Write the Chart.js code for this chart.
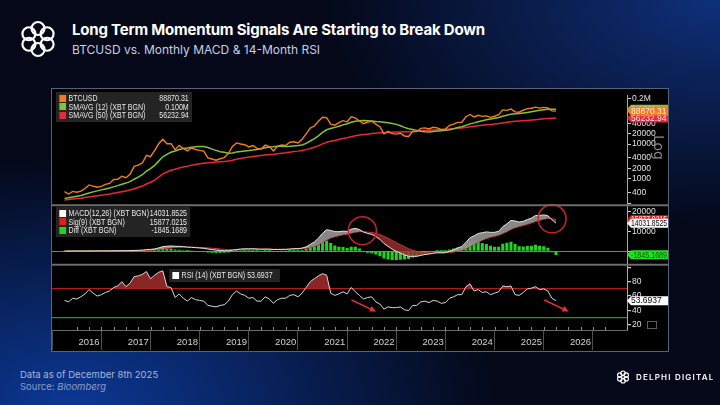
<!DOCTYPE html>
<html lang="en">
<head>
<meta charset="UTF-8" />
<title>Long Term Momentum Signals Are Starting to Break Down</title>
<script src="https://cdn.jsdelivr.net/npm/chart.js"></script>
<style>
  html, body { margin: 0; padding: 0; }
  body {
    width: 720px; height: 405px; overflow: hidden; position: relative;
    font-family: Inter, 'Noto Sans', sans-serif; color: #fff;
    background:
      radial-gradient(ellipse 430px 250px at 10% 100%, rgba(12,58,155,0.95), rgba(12,58,155,0) 100%),
      radial-gradient(ellipse 400px 230px at 100% 0%, rgba(16,52,132,0.9), rgba(16,52,132,0) 100%),
      #040818;
  }
  .abs { position: absolute; }
  #title { left: 72px; top: 20px; font-size: 15px; font-weight: 700; letter-spacing: -0.2px; white-space: nowrap; }
  #subtitle { left: 72px; top: 42px; font-size: 12px; color: #c9cfe3; white-space: nowrap; }
  #panel { left: 51px; top: 88px; width: 616px; height: 262px; border: 1px solid #56617a; background: #000; }
  canvas { display: block; }
  .lg { position: absolute; background: rgba(40,40,40,0.9); padding: 2px 4px 2px 4px;
        font: 8.4px 'Liberation Sans', Arial, sans-serif; color: #e6e6e6;
        transform: scaleX(0.84); transform-origin: left top; }
  .row { display: flex; align-items: center; height: 8.6px; white-space: nowrap; }
  .row i { display: inline-block; flex-shrink: 0; width: 8px; height: 7px; margin-right: 3px; }
  .row span { flex: 1; }
  .row b { font-weight: normal; text-align: right; }
  #log { left: 667px; top: 135px; font: 14px 'DejaVu Sans', sans-serif; color: #8c8c8c; transform: rotate(90deg); transform-origin: left top; }
  #foot1 { left: 20px; top: 369px; font-size: 9.5px; color: #a9b6da; }
  #foot2 { left: 20px; top: 381px; font-size: 9.5px; color: #8f9dc6; }
  #brand { left: 636px; top: 372px; font-size: 8px; letter-spacing: 1.2px; font-weight: 600; }
</style>
</head>
<body>
  <svg class="abs" style="left:18px;top:19px" width="40" height="40" viewBox="-20 -20 40 40">
    <g fill="none" stroke="#fff" stroke-width="2.2">
      <circle cx="0" cy="-10.5" r="6.5"/><circle cx="9.1" cy="-5.25" r="6.5"/><circle cx="9.1" cy="5.25" r="6.5"/>
      <circle cx="0" cy="10.5" r="6.5"/><circle cx="-9.1" cy="5.25" r="6.5"/><circle cx="-9.1" cy="-5.25" r="6.5"/>
    </g>
  </svg>
  <div id="title" class="abs">Long Term Momentum Signals Are Starting to Break Down</div>
  <div id="subtitle" class="abs">BTCUSD vs. Monthly MACD &amp; 14-Month RSI</div>

  <div id="panel" class="abs"><canvas id="chart" width="616" height="262"></canvas></div>

  <div class="lg" style="left:56px;top:92px;width:154px">
    <div class="row"><i style="background:#f47c20"></i><span>BTCUSD</span><b id="lgBtc"></b></div>
    <div class="row"><i style="background:#80c341"></i><span>SMAVG (12) (XBT BGN)</span><b id="lgS12"></b></div>
    <div class="row"><i style="background:#e8273d"></i><span>SMAVG (50) (XBT BGN)</span><b id="lgS50"></b></div>
  </div>
  <div class="lg" style="left:56px;top:207px;width:152px">
    <div class="row"><i style="background:#fff"></i><span>MACD(12,26) (XBT BGN)</span><b id="lgMacd"></b></div>
    <div class="row"><i style="background:#e01f1f"></i><span>Sig(9) (XBT BGN)</span><b id="lgSig"></b></div>
    <div class="row"><i style="background:#22d422"></i><span>Diff (XBT BGN)</span><b id="lgDiff"></b></div>
  </div>
  <div class="lg" style="left:169px;top:269px;width:124px">
    <div class="row"><i style="background:#fff"></i><span id="lgRsi"></span></div>
  </div>
  <div id="log" class="abs">Log</div>
  <div class="abs" style="left:647px;top:321px;width:8px;height:6px;border:1px solid #5c5c5c"></div>

  <div id="foot1" class="abs">Data as of December 8th 2025</div>
  <div id="foot2" class="abs">Source: <i>Bloomberg</i></div>
  <svg class="abs" style="left:616px;top:370px" width="14" height="14" viewBox="-20 -20 40 40">
    <g fill="none" stroke="#fff" stroke-width="3.2">
      <circle cx="0" cy="-10.5" r="6.5"/><circle cx="9.1" cy="-5.25" r="6.5"/><circle cx="9.1" cy="5.25" r="6.5"/>
      <circle cx="0" cy="10.5" r="6.5"/><circle cx="-9.1" cy="5.25" r="6.5"/><circle cx="-9.1" cy="-5.25" r="6.5"/>
    </g>
  </svg>
  <div id="brand" class="abs">DELPHI DIGITAL</div>

<script>
// monthly closes, first point = Dec 2015, plotted at month end
const startYear = 2016;
const yearLabels = ['2016', '2017', '2018', '2019', '2020', '2021', '2022', '2023', '2024', '2025', '2026'];

const btc = [430,
  369, 437, 416, 448, 531, 673, 624, 575, 609, 698, 742, 964,
  970, 1190, 1080, 1348, 2300, 2480, 2875, 4735, 4340, 6470, 10230, 13860,
  10220, 10330, 6930, 9240, 7500, 6400, 7730, 7020, 6625, 6320, 4020, 3740,
  3460, 3800, 4100, 5320, 8560, 10820, 10080, 9600, 8290, 9150, 7560, 7190,
  9350, 8540, 6410, 8620, 9450, 9140, 11350, 11650, 10780, 13800, 19700, 28990,
  33110, 45240, 58920, 57750, 37330, 35040, 41630, 47130, 43790, 61320, 57010, 46310,
  38480, 43190, 45540, 37710, 31790, 19780, 23300, 20050, 19430, 20490, 17170, 16550,
  23140, 23150, 28480, 29230, 27220, 30480, 29230, 25940, 26970, 34670, 37720, 42270,
  42580, 61200, 71290, 60640, 67490, 62680, 64620, 58970, 63330, 70220, 96450, 93430,
  102400, 84370, 82550, 94210, 104640, 107140, 115760, 108240, 114060, 109600, 90400, 88870.31];

const sma12 = [276,
  289, 304, 319, 336, 361, 395, 424, 453, 484, 516, 546, 591,
  641, 703, 759, 834, 981, 1132, 1319, 1666, 1977, 2458, 3249, 4323,
  5094, 5856, 6343, 7001, 7434, 7761, 8165, 8356, 8546, 8534, 8016, 7173,
  6610, 6065, 5830, 5503, 5591, 5960, 6155, 6370, 6509, 6745, 7040, 7328,
  7818, 8213, 8406, 8681, 8755, 8615, 8721, 8892, 9099, 9487, 10498, 12315,
  14295, 17353, 21729, 25823, 28147, 30305, 32828, 35785, 38536, 42496, 45605, 47048,
  47496, 47325, 46210, 44540, 44078, 42807, 41279, 39023, 36993, 33590, 30270, 27790,
  26512, 24842, 23420, 22713, 22333, 23224, 23718, 24209, 24838, 26019, 27732, 29875,
  31495, 34666, 38233, 40851, 44207, 46890, 49839, 52592, 55622, 58584, 63478, 67742,
  72727, 74658, 75596, 78393, 81489, 85194, 89456, 93562, 97789, 101071, 100567, 100187];

const sma50 = [247,
  255, 263, 272, 280, 291, 304, 317, 328, 340, 354, 368, 387,
  407, 430, 451, 478, 522, 569, 624, 716, 801, 928, 1130, 1403,
  1585, 1777, 1899, 2073, 2214, 2333, 2475, 2603, 2724, 2840, 2913, 2981,
  3043, 3112, 3190, 3291, 3458, 3669, 3866, 4053, 4213, 4392, 4538, 4676,
  4855, 5017, 5138, 5302, 5482, 5656, 5873, 6092, 6295, 6560, 6942, 7507,
  8155, 9040, 10199, 11330, 12055, 12729, 13516, 14409, 15227, 16359, 17412, 18209,
  18774, 19361, 20067, 20615, 21112, 21323, 21639, 21912, 22146, 22415, 22626, 22831,
  23213, 23601, 24102, 24610, 25073, 25576, 25989, 26292, 26629, 27131, 27719, 28382,
  29082, 30162, 31401, 32443, 33665, 34746, 35849, 36846, 37886, 39057, 40770, 42363,
  44017, 45125, 46113, 47093, 48007, 48995, 50564, 52028, 53476, 54726, 55658, 56232.94];

const macd = [-50,
  -43, -32, -25, -16, -2, 20, 33, 39, 46, 58, 70, 97,
  117, 149, 163, 194, 292, 380, 476, 694, 825, 1088, 1582, 2240,
  2440, 2577, 2385, 2391, 2230, 1990, 1886, 1727, 1550, 1370, 1030, 730,
  464, 277, 151, 149, 403, 778, 1004, 1131, 1113, 1155, 1048, 923,
  987, 961, 760, 770, 835, 851, 1031, 1184, 1221, 1477, 2130, 3359,
  4611, 6507, 9007, 10771, 10403, 9813, 9765, 10054, 9900, 11063, 11491, 10855,
  9608, 8898, 8427, 7338, 5929, 3800, 2370, 963, -200, -1024, -1923, -2654,
  -2672, -2654, -2185, -1734, -1521, -1077, -816, -864, -810, -145, 621, 1577,
  2332, 4381, 6741, 7665, 8847, 9289, 9683, 9432, 9475, 9950, 12299, 13759,
  15461, 15181, 14644, 14986, 15914, 16658, 17964, 17982, 18263, 17878, 15878, 14031.8525];

const signal = [-50,
  -49, -45, -41, -36, -29, -19, -9, 1, 10, 19, 30, 43,
  58, 76, 93, 114, 149, 195, 252, 340, 437, 567, 770, 1064,
  1339, 1587, 1746, 1875, 1946, 1955, 1941, 1898, 1829, 1737, 1596, 1423,
  1231, 1040, 862, 720, 656, 681, 745, 822, 881, 935, 958, 951,
  958, 959, 919, 889, 878, 873, 904, 960, 1012, 1105, 1310, 1720,
  2298, 3140, 4313, 5605, 6565, 7215, 7725, 8191, 8533, 9039, 9529, 9794,
  9757, 9585, 9353, 8950, 8346, 7437, 6424, 5332, 4226, 3176, 2156, 1194,
  421, -194, -592, -820, -960, -984, -950, -933, -908, -756, -480, -69,
  411, 1205, 2312, 3383, 4476, 5438, 6287, 6916, 7428, 7932, 8806, 9796,
  10929, 11780, 12352, 12879, 13486, 14120, 14889, 15507, 16059, 16422, 16314, 15877.0215];

const diff = [0,
  6, 13, 16, 20, 27, 39, 42, 38, 36, 39, 40, 54,
  59, 73, 70, 80, 143, 185, 224, 354, 388, 521, 812, 1176,
  1101, 990, 639, 516, 284, 35, -55, -171, -279, -367, -566, -693,
  -767, -763, -711, -571, -253, 97, 259, 309, 232, 220, 90, -28,
  29, 2, -159, -119, -43, -22, 127, 224, 209, 372, 820, 1639,
  2313, 3367, 4694, 5166, 3838, 2598, 2040, 1863, 1367, 2024, 1962, 1061,
  -149, -687, -926, -1612, -2417, -3637, -4054, -4369, -4426, -4200, -4079, -3848,
  -3093, -2460, -1593, -914, -561, -93, 134, 69, 98, 611, 1101, 1646,
  1921, 3176, 4429, 4282, 4371, 3851, 3396, 2516, 2047, 2018, 3493, 3963,
  4532, 3401, 2292, 2107, 2428, 2538, 3075, 2475, 2204, 1456, -436, -1845.1689];

const rsi = [54,
  52, 57, 56, 59, 63, 69, 64, 60, 62, 65, 67, 72,
  74, 80, 73, 78, 87, 88, 90, 94, 84, 89, 93, 95,
  73, 72, 58, 63, 57, 53, 58, 55, 54, 53, 47, 46,
  45, 47, 48, 53, 62, 67, 63, 61, 57, 58, 53, 53,
  59, 56, 50, 55, 57, 57, 61, 62, 59, 64, 72, 80,
  84, 88, 91, 89, 64, 61, 63, 66, 63, 72, 66, 61,
  56, 58, 59, 52, 49, 42, 45, 44, 44, 45, 41, 40,
  47, 47, 52, 53, 51, 54, 53, 50, 51, 57, 59, 62,
  62, 73, 77, 67, 69, 65, 66, 62, 64, 66, 74, 73,
  74, 62, 61, 65, 70, 71, 73, 69, 70, 67, 57, 53.6937];

const priceTicks = [200, 400, 1000, 2000, 4000, 10000, 20000, 40000, 200000];
const macdTicks = [0, 10000, 20000];
const rsiTicks = [20, 30, 40, 60, 70, 80, 100];
const rsiBands = { high: 70, low: 30 };

// annotations in data units
const circles = [{ x: 2022.06, y: 10300 }, { x: 2025.92, y: 16300 }];
const arrows = [
  { x0: 2021.84, y0: 54.5, x1: 2022.34, y1: 38.6 },
  { x0: 2025.76, y0: 54.5, x1: 2026.26, y1: 38.6 }
];

const pts = arr => arr.map((v, i) => ({ x: startYear + i / 12, y: v }));
const last = arr => arr[arr.length - 1];
const fmtM = v => (v / 1e6).toFixed(3) + 'M';
const tv = c => (c && c.tick) ? c.tick.value : NaN;

const narrow = "'Liberation Sans Narrow', 'Arial Narrow', 'Liberation Sans', sans-serif";

document.getElementById('lgBtc').textContent = last(btc).toFixed(2);
document.getElementById('lgS12').textContent = fmtM(last(sma12));
document.getElementById('lgS50').textContent = last(sma50).toFixed(2);
document.getElementById('lgMacd').textContent = last(macd).toFixed(4);
document.getElementById('lgSig').textContent = last(signal).toFixed(4);
document.getElementById('lgDiff').textContent = last(diff).toFixed(4);
document.getElementById('lgRsi').textContent = 'RSI (14) (XBT BGN) ' + last(rsi).toFixed(4);

const tags = [
  { axis: 'yP', value: last(sma12), text: fmtM(last(sma12)), bg: '#80c341', fg: '#f4fff0' },
  { axis: 'yP', value: last(sma50), text: last(sma50).toFixed(2), bg: '#e8273d', fg: '#ffe3e6' },
  { axis: 'yP', value: last(btc), text: last(btc).toFixed(2), bg: '#f47c20', fg: '#fff1e4' },
  { axis: 'yM', value: last(signal), text: last(signal).toFixed(4), bg: '#e01f1f', fg: '#ffd6d6' },
  { axis: 'yM', value: last(macd), text: last(macd).toFixed(4), bg: '#ffffff', fg: '#000' },
  { axis: 'yM', value: last(diff), text: last(diff).toFixed(4), bg: '#22e022', fg: '#0b560b' },
  { axis: 'yR', value: last(rsi), text: last(rsi).toFixed(4), bg: '#ffffff', fg: '#000' }
];

const overlay = {
  id: 'overlay',
  afterDatasetsDraw(chart) {
    const { ctx, scales: { x, yM, yR } } = chart;
    ctx.save();
    ctx.strokeStyle = '#c8232b';
    ctx.lineWidth = 1.5;
    circles.forEach(c => {
      ctx.beginPath();
      ctx.arc(x.getPixelForValue(c.x), yM.getPixelForValue(c.y), 14, 0, Math.PI * 2);
      ctx.stroke();
    });
    ctx.strokeStyle = ctx.fillStyle = '#e2323c';
    arrows.forEach(a => {
      const x0 = x.getPixelForValue(a.x0), y0 = yR.getPixelForValue(a.y0);
      const x1 = x.getPixelForValue(a.x1), y1 = yR.getPixelForValue(a.y1);
      const ang = Math.atan2(y1 - y0, x1 - x0);
      ctx.beginPath(); ctx.moveTo(x0, y0); ctx.lineTo(x1 - 4 * Math.cos(ang), y1 - 4 * Math.sin(ang)); ctx.stroke();
      ctx.beginPath();
      ctx.moveTo(x1, y1);
      ctx.lineTo(x1 - 7 * Math.cos(ang - 0.45), y1 - 7 * Math.sin(ang - 0.45));
      ctx.lineTo(x1 - 7 * Math.cos(ang + 0.45), y1 - 7 * Math.sin(ang + 0.45));
      ctx.closePath(); ctx.fill();
    });
    ctx.restore();
  },
  afterDraw(chart) {
    const { ctx, scales, width } = chart;
    const x = scales.x;
    ctx.save();
    // pane separators
    ctx.strokeStyle = '#6c6c6c';
    ctx.lineWidth = 2;
    [scales.yM.top, scales.yR.top].forEach(y => {
      ctx.beginPath(); ctx.moveTo(0, y); ctx.lineTo(width, y); ctx.stroke();
    });
    // quarter ticks on the time axis
    ctx.strokeStyle = '#8a8a8a';
    ctx.lineWidth = 1;
    for (let q = startYear + 0.25; q < x.max; q += 0.25) {
      const px = Math.round(x.getPixelForValue(q)) + 0.5;
      ctx.beginPath(); ctx.moveTo(px, x.top); ctx.lineTo(px, x.top - 3); ctx.stroke();
    }
    // value tags on the right axis
    ctx.font = '8.5px ' + narrow;
    ctx.textBaseline = 'middle';
    tags.forEach(t => {
      const s = scales[t.axis];
      const cy = s.getPixelForValue(t.value);
      const h = 9, x0 = s.left, x1 = width;
      ctx.fillStyle = t.bg;
      ctx.beginPath();
      ctx.moveTo(x0, cy);
      ctx.lineTo(x0 + 4, cy - h / 2);
      ctx.lineTo(x1, cy - h / 2);
      ctx.lineTo(x1, cy + h / 2);
      ctx.lineTo(x0 + 4, cy + h / 2);
      ctx.closePath();
      ctx.fill();
      ctx.fillStyle = t.fg;
      ctx.fillText(t.text, x0 + 4, cy + 0.5, x1 - x0 - 5);
    });
    ctx.restore();
  }
};

const tickFont = { family: narrow, size: 8.5 };
const axisWidth = s => { s.width = 41; };

new Chart(document.getElementById('chart'), {
  data: {
    datasets: [
      { type: 'line', label: 'BTCUSD', data: pts(btc), yAxisID: 'yP', borderColor: '#f47c20', borderWidth: 1.4, pointRadius: 0, tension: 0 },
      { type: 'line', label: 'SMAVG (12)', data: pts(sma12), yAxisID: 'yP', borderColor: '#80c341', borderWidth: 1.5, pointRadius: 0 },
      { type: 'line', label: 'SMAVG (50)', data: pts(sma50), yAxisID: 'yP', borderColor: '#e8273d', borderWidth: 1.5, pointRadius: 0 },
      { type: 'line', label: 'MACD', data: pts(macd), yAxisID: 'yM', borderColor: '#e6e6e6', borderWidth: 1, pointRadius: 0,
        fill: { target: 4, above: 'rgba(150,150,150,0.9)', below: 'rgba(160,48,48,0.8)' } },
      { type: 'line', label: 'Sig', data: pts(signal), yAxisID: 'yM', borderColor: '#d92626', borderWidth: 1, pointRadius: 0 },
      { type: 'bar', label: 'Diff', data: pts(diff), yAxisID: 'yM', backgroundColor: '#22d422', barThickness: 2.4 },
      { type: 'line', label: 'RSI', data: pts(rsi), yAxisID: 'yR', borderColor: '#d8d8d8', borderWidth: 1, pointRadius: 0,
        fill: { target: { value: rsiBands.high }, above: 'rgba(165,45,45,0.85)', below: 'rgba(0,0,0,0)' } }
    ]
  },
  options: {
    responsive: false,
    animation: false,
    layout: { padding: 0 },
    plugins: { legend: { display: false }, tooltip: { enabled: false } },
    scales: {
      x: {
        type: 'linear', min: startYear, max: 2027.19, bounds: 'data',
        afterBuildTicks: s => {
          const t = [];
          yearLabels.forEach((y, i) => { t.push({ value: startYear + i }); t.push({ value: startYear + i + 0.5 }); });
          t.push({ value: startYear + yearLabels.length });
          s.ticks = t;
        },
        afterFit: s => { s.height = 21; },
        border: { color: '#6a6a6a' },
        grid: {
          drawOnChartArea: false, tickLength: 20,
          color: c => Number.isInteger(tv(c)) ? '#4e4e4e' : 'rgba(0,0,0,0)'
        },
        ticks: {
          autoSkip: false, maxRotation: 0, padding: -13, color: '#d2d2d2',
          font: { family: narrow, size: 9.5 },
          callback: v => (v % 1) ? yearLabels[Math.floor(v) - startYear] : ''
        }
      },
      yP: {
        type: 'logarithmic', position: 'right', stack: 'panes', stackWeight: 113,
        min: 175.3, max: 256400, bounds: 'data',
        afterBuildTicks: s => { s.ticks = priceTicks.map(v => ({ value: v })); },
        afterFit: axisWidth,
        border: { color: '#a8a8a8' },
        grid: { drawOnChartArea: false, tickLength: 4, color: '#d0d0d0' },
        ticks: { autoSkip: false, padding: 1, color: '#e2e2e2', font: tickFont,
          callback: v => v === priceTicks[0] ? '' : v >= 100000 ? (v / 1e6) + 'M' : String(v) }
      },
      yM: {
        type: 'linear', position: 'right', stack: 'panes', stackWeight: 61,
        min: -6900, max: 23150, bounds: 'data',
        afterBuildTicks: s => { s.ticks = macdTicks.map(v => ({ value: v })); },
        afterFit: axisWidth,
        border: { color: '#a8a8a8' },
        grid: { tickLength: 4, tickColor: '#d0d0d0', color: c => tv(c) === 0 ? '#7c7c7c' : 'rgba(0,0,0,0)' },
        ticks: { autoSkip: false, padding: 1, color: '#e2e2e2', font: tickFont, callback: v => v === 0 ? '' : String(v) }
      },
      yR: {
        type: 'linear', position: 'right', stack: 'panes', stackWeight: 67,
        min: 13, max: 103.5, bounds: 'data',
        afterBuildTicks: s => { s.ticks = rsiTicks.map(v => ({ value: v })); },
        afterFit: axisWidth,
        border: { color: '#a8a8a8' },
        grid: {
          tickLength: 4, lineWidth: 1.2,
          color: c => tv(c) === rsiBands.high ? '#b3171f' : tv(c) === rsiBands.low ? '#1f9a2a' : 'rgba(0,0,0,0)',
          tickColor: c => (tv(c) === rsiBands.high || tv(c) === rsiBands.low) ? 'rgba(0,0,0,0)' : '#d0d0d0'
        },
        ticks: { autoSkip: false, padding: 1, color: '#e2e2e2', font: tickFont,
          callback: v => (v === rsiBands.high || v === rsiBands.low || v === 100) ? '' : String(v) }
      }
    }
  },
  plugins: [overlay]
});
</script>
</body>
</html>
